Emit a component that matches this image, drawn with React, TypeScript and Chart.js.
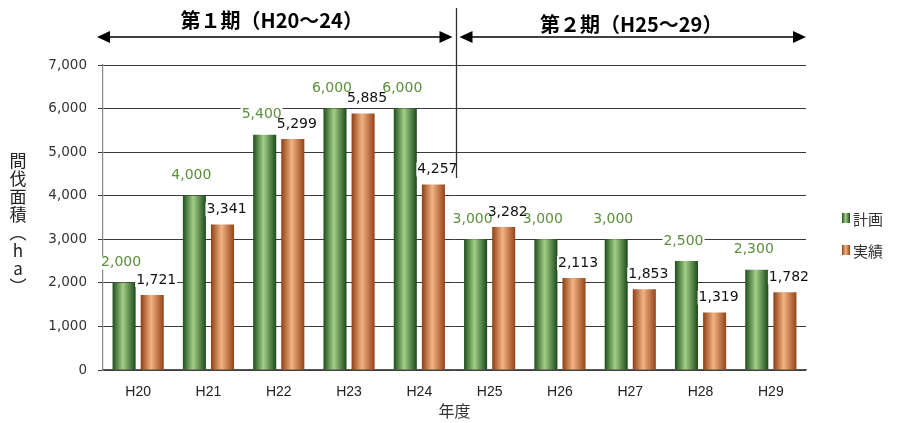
import { useEffect, useRef } from 'react';
import { Chart, registerables } from 'chart.js';

Chart.register(...registerables);

const categories = ['H20', 'H21', 'H22', 'H23', 'H24', 'H25', 'H26', 'H27', 'H28', 'H29'];
const planValues = [2000, 4000, 5400, 6000, 6000, 3000, 3000, 3000, 2500, 2300];
const actualValues = [1721, 3341, 5299, 5885, 4257, 3282, 2113, 1853, 1319, 1782];
const seriesNames = ['計画', '実績'];
const periodLabels = ['第１期（H20～24）', '第２期（H25～29）'];
const periodSplitIndex = 5;
const xTitle = '年度';
const yTitleChars = ['間', '伐', '面', '積', '︵', 'h', 'a', '︶'];
const yMax = 7000;
const yStep = 1000;

const CJK = '"Noto Sans CJK JP", "Noto Sans", sans-serif';
const GREEN = ['#1d4f1d', '#a3cf86', '#1a4a1a'];
const ORANGE = ['#8e3f14', '#f3b383', '#94441a'];

function makeGrad(ctx: CanvasRenderingContext2D, x0: number, x1: number, c: string[]) {
  const g = ctx.createLinearGradient(x0, 0, x1, 0);
  g.addColorStop(0, c[0]);
  g.addColorStop(0.45, c[1]);
  g.addColorStop(1, c[2]);
  return g;
}

const fmt = (v: number) => v.toLocaleString('en-US');

const decorPlugin = {
  id: 'decor',
  beforeDatasetsDraw(chart: any) {
    const ctx = chart.ctx;
    chart.data.datasets.forEach((_: any, di: number) => {
      const meta = chart.getDatasetMeta(di);
      const cols = di === 0 ? GREEN : ORANGE;
      meta.data.forEach((el: any) => {
        const { x, width } = el.getProps(['x', 'width'], true);
        el.options.backgroundColor = makeGrad(ctx, x - width / 2, x + width / 2, cols);
      });
    });
  },
  afterDatasetsDraw(chart: any) {
    const ctx = chart.ctx;
    ctx.save();
    ctx.font = '14px "DejaVu Sans", sans-serif';
    ctx.textAlign = 'center';
    ctx.textBaseline = 'middle';
    const items: any[] = [];
    chart.data.datasets.forEach((ds: any, di: number) => {
      const meta = chart.getDatasetMeta(di);
      meta.data.forEach((el: any, i: number) => {
        const { x, y } = el.getProps(['x', 'y'], true);
        const txt = fmt(ds.data[i]);
        const lx = x + (di === 0 ? -3 : 4);
        const ly = y - (di === 0 ? 20 : 15);
        const w = ctx.measureText(txt).width;
        items.push({ txt, lx, ly, w, di });
      });
    });
    ctx.fillStyle = '#ffffff';
    items.forEach((it) => ctx.fillRect(it.lx - it.w / 2 - 1, it.ly - 7, it.w + 2, 14));
    items.forEach((it) => {
      ctx.fillStyle = it.di === 0 ? '#5b8f3a' : '#111111';
      ctx.fillText(it.txt, it.lx, it.ly);
    });
    ctx.restore();
  },
  afterDraw(chart: any) {
    const ctx = chart.ctx;
    const xs = chart.scales.x;
    const area = chart.chartArea;
    const split = (xs.getPixelForValue(periodSplitIndex - 1) + xs.getPixelForValue(periodSplitIndex)) / 2 + 2;
    ctx.save();
    ctx.strokeStyle = '#333333';
    ctx.lineWidth = 1.3;
    ctx.beginPath();
    ctx.moveTo(split, 8);
    ctx.lineTo(split, 178);
    ctx.stroke();
    const arrowY = 37;
    const drawArrow = (x0: number, x1: number) => {
      ctx.strokeStyle = '#000';
      ctx.lineWidth = 1.5;
      ctx.beginPath();
      ctx.moveTo(x0 + 8, arrowY);
      ctx.lineTo(x1 - 8, arrowY);
      ctx.stroke();
      ctx.fillStyle = '#000';
      ctx.beginPath();
      ctx.moveTo(x0, arrowY);
      ctx.lineTo(x0 + 13, arrowY - 6);
      ctx.lineTo(x0 + 13, arrowY + 6);
      ctx.closePath();
      ctx.fill();
      ctx.beginPath();
      ctx.moveTo(x1, arrowY);
      ctx.lineTo(x1 - 13, arrowY - 6);
      ctx.lineTo(x1 - 13, arrowY + 6);
      ctx.closePath();
      ctx.fill();
    };
    drawArrow(area.left - 6, split - 4);
    drawArrow(split + 3, area.right);
    ctx.font = 'bold 20px ' + CJK;
    ctx.textAlign = 'center';
    ctx.textBaseline = 'middle';
    ctx.fillStyle = '#000';
    ctx.fillText(periodLabels[0], (area.left + split) / 2 - 8, 20);
    ctx.fillText(periodLabels[1], (split + area.right) / 2, 24);
    ctx.font = '16px ' + CJK;
    ctx.fillStyle = '#333';
    ctx.fillText(xTitle, (area.left + area.right) / 2, 411);
    ctx.font = '17px ' + CJK;
    ctx.fillStyle = '#222';
    let yy = 161;
    yTitleChars.forEach((c) => {
      ctx.fillText(c, 18, yy);
      yy += 18;
    });
    ctx.font = '15px ' + CJK;
    ctx.textAlign = 'left';
    const legY = [218, 250];
    seriesNames.forEach((n, i) => {
      const bx = 842;
      const cols = i === 0 ? GREEN : ORANGE;
      ctx.fillStyle = makeGrad(ctx, bx, bx + 8, cols);
      ctx.fillRect(bx, legY[i] - 5, 8, 10);
      ctx.fillStyle = '#333';
      ctx.fillText(n, bx + 11, legY[i] + 1);
    });
    ctx.restore();
  },
};

export default function App() {
  const ref = useRef<HTMLCanvasElement | null>(null);
  useEffect(() => {
    document.body.style.margin = '0';
    const c = ref.current!;
    const chart = new Chart(c, {
      type: 'bar',
      data: {
        labels: categories,
        datasets: [
          { label: seriesNames[0], data: planValues, backgroundColor: () => GREEN[1], borderWidth: 0 },
          { label: seriesNames[1], data: actualValues, backgroundColor: () => ORANGE[1], borderWidth: 0 },
        ],
      },
      options: {
        animation: false,
        responsive: false,
        devicePixelRatio: 1,
        layout: { padding: { top: 65, right: 96, left: 0, bottom: 0 } },
        datasets: { bar: { categoryPercentage: 0.8, barPercentage: 0.82 } },
        plugins: { legend: { display: false }, tooltip: { enabled: false } },
        scales: {
          x: {
            grid: { display: false, drawTicks: false },
            border: { color: '#555', width: 1.2 },
            ticks: { color: '#222', font: { family: '"Liberation Sans", Arial, sans-serif', size: 14 }, padding: 14 },
            afterFit: (s: any) => { s.height = 53; },
          },
          y: {
            min: 0,
            max: yMax,
            ticks: {
              stepSize: yStep,
              color: '#333',
              padding: 11,
              font: { family: '"DejaVu Sans", Verdana, sans-serif', size: 13.5 },
              callback: (v: any) => fmt(Number(v)),
            },
            grid: { color: '#3a3a3a', lineWidth: 1, tickLength: 5 },
            border: { color: '#888', width: 1.2 },
            afterFit: (s: any) => { s.width = 103; },
          },
        },
      },
      plugins: [decorPlugin],
    });
    return () => chart.destroy();
  }, []);
  return (
    <div style={{ width: 902, height: 423, background: '#fff' }}>
      <canvas ref={ref} width={902} height={423} style={{ display: 'block' }} />
    </div>
  );
}
